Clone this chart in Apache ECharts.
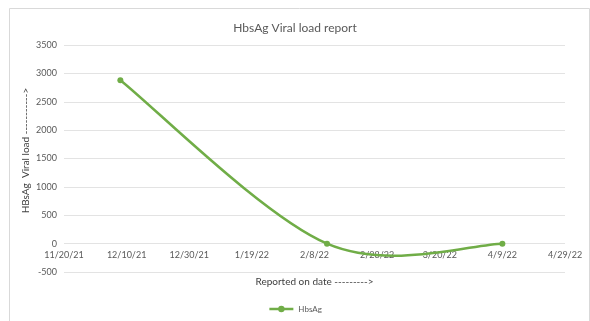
<!DOCTYPE html>
<html>
<head>
<meta charset="utf-8">
<script src="https://cdn.jsdelivr.net/npm/echarts@6/dist/echarts.min.js"></script>
<style>
html,body{margin:0;padding:0;background:#fff;}
#chart{width:590px;height:321px;}
</style>
</head>
<body>
<div id="chart"></div>
<script>
// ---- data ----
const reportDates = ['2021-12-08', '2022-02-12', '2022-04-09'];
const hbsagValues = [2880, 0, 0];
const xTickStartDate = '2021-11-20';
const xTickStepDays = 20;
const xTickCount = 9; // 11/20/21 ... 4/29/22
const yTickValues = [-500, 0, 500, 1000, 1500, 2000, 2500, 3000, 3500];

const DAY = 86400000;
function toUTC(s){ const p = s.split('-').map(Number); return Date.UTC(p[0], p[1]-1, p[2]); }
const base = toUTC(xTickStartDate);
function dayOffset(s){ return Math.round((toUTC(s) - base) / DAY); }
function fmtDay(v){
  const d = new Date(base + v * DAY);
  return (d.getUTCMonth()+1) + '/' + d.getUTCDate() + '/' + String(d.getUTCFullYear()).slice(2);
}
const seriesData = reportDates.map((d, i) => [dayOffset(d), hbsagValues[i]]);

const GREEN = '#70ad47';
// Excel-style smoothed line: cubic Bezier segments through the data points,
// computed in pixel space from the library's own coordinate conversion.
function renderSmooth(params, api){
  if (params.dataIndex !== 0) return null;
  const P = seriesData.map(p => api.coord(p));
  const children = [];
  for (let i = 0; i < P.length - 1; i++) {
    const a = P[i], b = P[i+1];
    const prev = i > 0 ? P[i-1] : a;
    const next = i + 2 < P.length ? P[i+2] : b;
    const k = 1/6;
    const c1 = [a[0] + (b[0]-prev[0])*k, a[1] + (b[1]-prev[1])*k];
    const c2 = [b[0] - (next[0]-a[0])*k, b[1] - (next[1]-a[1])*k];
    children.push({
      type: 'bezierCurve',
      shape: {x1: a[0], y1: a[1], x2: b[0], y2: b[1], cpx1: c1[0], cpy1: c1[1], cpx2: c2[0], cpy2: c2[1]},
      style: {stroke: GREEN, lineWidth: 2.5, fill: null, lineCap: 'round'}
    });
  }
  return {type: 'group', children: children};
}

const FONT = 'Lato, "Open Sans", sans-serif';
const grey = '#595959';
const chart = echarts.init(document.getElementById('chart'), null, {renderer: 'canvas'});
chart.setOption({
  animation: false,
  backgroundColor: '#fff',
  textStyle: {fontFamily: FONT},
  graphic: [{
    type: 'rect', left: 7, top: 6, shape: {width: 580, height: 313},
    style: {fill: 'none', stroke: '#d9d9d9', lineWidth: 1}, silent: true
  }],
  title: {
    text: 'HbsAg Viral load report', left: 'center', top: 17,
    padding: [5, 5, 5, 17],
    textStyle: {fontSize: 12, fontWeight: 'normal', color: grey, fontFamily: FONT}
  },
  legend: {
    bottom: 3, left: 'center',
    itemWidth: 24, itemHeight: 8, itemGap: 4,
    textStyle: {fontSize: 8, color: grey, fontFamily: FONT},
    data: [{name: 'HbsAg', lineStyle: {opacity: 1, color: GREEN, width: 2.5}}]
  },
  grid: {left: 64, right: 25, top: 45, bottom: 49, containLabel: false},
  xAxis: {
    type: 'value',
    min: 0, max: xTickStepDays * (xTickCount - 1), interval: xTickStepDays,
    name: 'Reported on date --------->',
    nameLocation: 'middle', nameGap: 5, nameMoveOverlap: false,
    nameTextStyle: {fontSize: 10, color: '#404040', fontFamily: FONT},
    axisLine: {show: false},
    axisTick: {show: false},
    splitLine: {show: false},
    // labels sit just under the zero line, as in the reference
    axisLabel: {fontSize: 9, color: grey, margin: -21, formatter: fmtDay, fontFamily: FONT}
  },
  yAxis: {
    type: 'value',
    min: yTickValues[0], max: yTickValues[yTickValues.length-1], interval: 500,
    name: 'HBsAg  Viral load ----------->',
    nameLocation: 'middle', nameGap: 33, nameMoveOverlap: false,
    nameTextStyle: {fontSize: 10, color: '#404040', fontFamily: FONT, padding: [0, 0, 0, 16]},
    axisLine: {show: false, onZero: false},
    axisTick: {show: false},
    splitLine: {lineStyle: {color: '#e3e3e3'}},
    axisLabel: {fontSize: 9, color: grey, margin: 7, fontFamily: FONT, formatter: v => String(v)}
  },
  series: [{
    name: 'curve',
    type: 'custom',
    renderItem: renderSmooth,
    data: seriesData,
    z: 2,
    silent: true
  }, {
    name: 'HbsAg',
    type: 'line',
    data: seriesData,
    symbol: 'circle',
    symbolSize: 6,
    z: 3,
    lineStyle: {color: GREEN, width: 2.5, opacity: 0},
    itemStyle: {color: GREEN}
  }]
});
</script>
</body>
</html>
